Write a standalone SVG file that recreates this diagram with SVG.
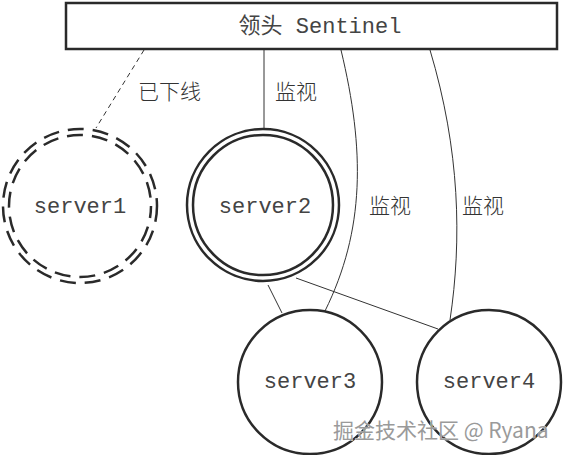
<svg xmlns="http://www.w3.org/2000/svg" width="563" height="455" viewBox="0 0 563 455">
<style>
.mono{font-family:"Liberation Mono","Noto Sans CJK SC",monospace;font-size:22px;fill:#444}
.cjk{font-family:"Noto Sans CJK SC","Liberation Sans",sans-serif;font-size:21px;font-weight:300;fill:#333}
.node{fill:#fff;stroke:#2a2a2a;stroke-width:2.5}
.dash{fill:none;stroke:#2a2a2a;stroke-width:2.5;stroke-dasharray:16 9}
.conn{fill:none;stroke:#333;stroke-width:1}
.wm{font-family:"Noto Sans CJK SC","Liberation Sans",sans-serif;font-size:21px;fill:#9a9a9a;stroke:#fff;stroke-width:0.6;paint-order:stroke}
</style>
<rect width="563" height="455" fill="#fff"/>
<g id="connectors">
<line class="conn" x1="144" y1="50" x2="96" y2="128" stroke-dasharray="5 4"/>
<line class="conn" x1="264" y1="50" x2="264" y2="129"/>
<path class="conn" d="M341 50 C 365 150, 365 230, 325 311"/>
<path class="conn" d="M430 50 C 460 150, 462 240, 450 320"/>
<line class="conn" x1="268" y1="285" x2="282" y2="313"/>
<line class="conn" x1="296" y1="278" x2="438" y2="329"/>
</g>
<g id="sentinel">
<rect x="66" y="3" width="491" height="46" fill="#fff" stroke="#2a2a2a" stroke-width="2.5"/>
<text class="mono" x="320" y="33" text-anchor="middle">领头 Sentinel</text>
</g>
<g id="server1">
<circle cx="80" cy="206" r="77" class="dash"/>
<circle cx="80" cy="206" r="71" class="dash" stroke-dashoffset="4"/>
<text class="mono" x="80" y="213" text-anchor="middle">server1</text>
</g>
<g id="server2">
<circle cx="263" cy="205" r="76" class="node"/>
<circle cx="263" cy="205" r="70" class="node"/>
<text class="mono" x="265" y="213" text-anchor="middle">server2</text>
</g>
<g id="server3">
<circle cx="310" cy="382" r="72" class="node"/>
<text class="mono" x="310" y="388" text-anchor="middle">server3</text>
</g>
<g id="server4">
<circle cx="489" cy="382" r="72" class="node"/>
<text class="mono" x="489" y="388" text-anchor="middle">server4</text>
</g>
<g id="labels">
<text class="cjk" x="138" y="99">已下线</text>
<text class="cjk" x="275" y="99">监视</text>
<text class="cjk" x="369" y="213">监视</text>
<text class="cjk" x="462" y="213">监视</text>
</g>
<text class="wm" x="333" y="438">掘金技术社区 @ Ryana</text>
</svg>
